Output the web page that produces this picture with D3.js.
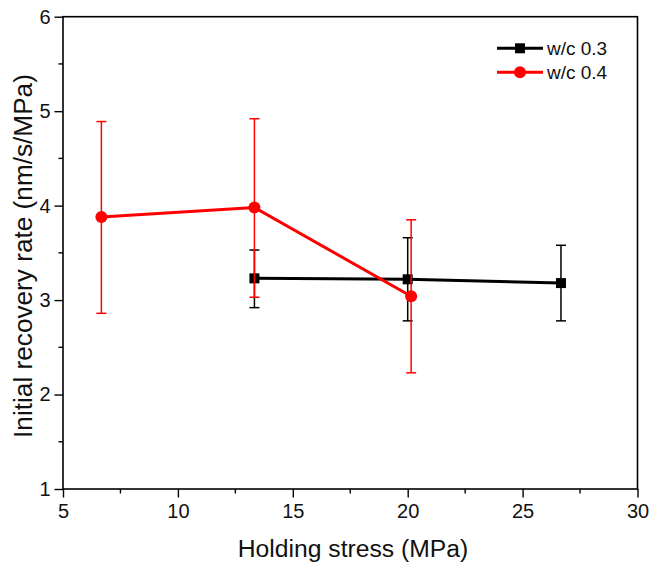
<!DOCTYPE html>
<html><head><meta charset="utf-8">
<script src="https://cdn.jsdelivr.net/npm/d3@7"></script>
<style>body{margin:0;background:#fff}svg{display:block}text{font-family:"Liberation Sans",Arial,sans-serif}</style>
</head><body><svg id="c" width="649" height="564"></svg>
<script>
const seriesNames = ["w/c 0.3", "w/c 0.4"];
const wc03X = [13.33, 20.0, 26.67];
const wc03Y = [3.23, 3.22, 3.18];
const wc03Err = [[2.92, 3.53], [2.78, 3.66], [2.78, 3.58]];
const wc04X = [6.67, 13.33, 20.15];
const wc04Y = [3.88, 3.98, 3.04];
const wc04Err = [[2.86, 4.89], [3.03, 4.92], [2.23, 3.85]];
const xTicks = [5, 10, 15, 20, 25, 30];
const yTicks = [1, 2, 3, 4, 5, 6];
const xLabel = "Holding stress (MPa)";
const yLabel = "Initial recovery rate (nm/s/MPa)";

const svg = d3.select("#c");
const L = 63, R = 637.5, T = 16.7, B = 489;
const x = d3.scaleLinear().domain([5, 30]).range([L, R]);
const y = d3.scaleLinear().domain([1, 6]).range([B, T]);

// frame
svg.append("rect").attr("x", L).attr("y", T).attr("width", R - L).attr("height", B - T)
  .attr("fill", "none").attr("stroke", "#000").attr("stroke-width", 1.6);

// minor ticks
const xMinor = d3.range(7.5, 30, 5);
const yMinor = d3.range(1.5, 6, 1);
svg.append("g").selectAll("line").data(xMinor).join("line")
  .attr("x1", d => x(d)).attr("x2", d => x(d)).attr("y1", B).attr("y2", B + 4.5)
  .attr("stroke", "#000").attr("stroke-width", 1.4);
svg.append("g").selectAll("line").data(yMinor).join("line")
  .attr("y1", d => y(d)).attr("y2", d => y(d)).attr("x1", L).attr("x2", L - 4.5)
  .attr("stroke", "#000").attr("stroke-width", 1.4);

const xAxis = svg.append("g").attr("transform", `translate(0,${B})`)
  .call(d3.axisBottom(x).tickValues(xTicks).tickSize(8.5).tickPadding(6).tickFormat(d3.format("d")));
const yAxis = svg.append("g").attr("transform", `translate(${L},0)`)
  .call(d3.axisLeft(y).tickValues(yTicks).tickSize(8.5).tickPadding(4).tickFormat(d3.format("d")));
[xAxis, yAxis].forEach(g => {
  g.select(".domain").remove();
  g.selectAll(".tick line").attr("stroke", "#000").attr("stroke-width", 1.4);
  g.selectAll(".tick text").attr("fill", "#111").style("font-size", "20px")
    .style("font-family", '"Liberation Sans",Arial,sans-serif');
});

svg.append("text").attr("x", 353).attr("y", 557).attr("text-anchor", "middle")
  .style("font-size", "24.7px").attr("fill", "#111").text(xLabel);
svg.append("text").attr("transform", `translate(32,256) rotate(-90)`)
  .attr("text-anchor", "middle").style("font-size", "26.2px").attr("fill", "#111").text(yLabel);

function drawSeries(xs, ys, errs, color, shape) {
  const g = svg.append("g");
  const pts = xs.map((v, i) => ({x: v, y: ys[i], lo: errs[i][0], hi: errs[i][1]}));
  // error bars
  pts.forEach(p => {
    g.append("line").attr("x1", x(p.x)).attr("x2", x(p.x)).attr("y1", y(p.lo)).attr("y2", y(p.hi))
      .attr("stroke", color).attr("stroke-width", 1.5);
    [p.lo, p.hi].forEach(v => g.append("line").attr("x1", x(p.x) - 5).attr("x2", x(p.x) + 5)
      .attr("y1", y(v)).attr("y2", y(v)).attr("stroke", color).attr("stroke-width", 1.5));
  });
  g.append("path").datum(pts)
    .attr("d", d3.line().x(d => x(d.x)).y(d => y(d.y)))
    .attr("fill", "none").attr("stroke", color).attr("stroke-width", 3);
  pts.forEach(p => {
    if (shape === "square") g.append("rect").attr("x", x(p.x) - 5).attr("y", y(p.y) - 5)
      .attr("width", 10).attr("height", 10).attr("fill", color);
    else g.append("circle").attr("cx", x(p.x)).attr("cy", y(p.y)).attr("r", 6).attr("fill", color);
  });
}
drawSeries(wc03X, wc03Y, wc03Err, "#000", "square");
drawSeries(wc04X, wc04Y, wc04Err, "#ff0000", "circle");

// legend
const leg = [{name: seriesNames[0], color: "#000", shape: "square", yy: 48.3},
             {name: seriesNames[1], color: "#ff0000", shape: "circle", yy: 72.3}];
leg.forEach(d => {
  svg.append("line").attr("x1", 497).attr("x2", 543).attr("y1", d.yy).attr("y2", d.yy)
    .attr("stroke", d.color).attr("stroke-width", 3);
  if (d.shape === "square") svg.append("rect").attr("x", 520 - 5).attr("y", d.yy - 5)
    .attr("width", 10).attr("height", 10).attr("fill", d.color);
  else svg.append("circle").attr("cx", 520).attr("cy", d.yy).attr("r", 6).attr("fill", d.color);
  svg.append("text").attr("x", 547).attr("y", d.yy + 7).style("font-size", "19px")
    .attr("fill", "#111").text(d.name);
});
</script></body></html>
